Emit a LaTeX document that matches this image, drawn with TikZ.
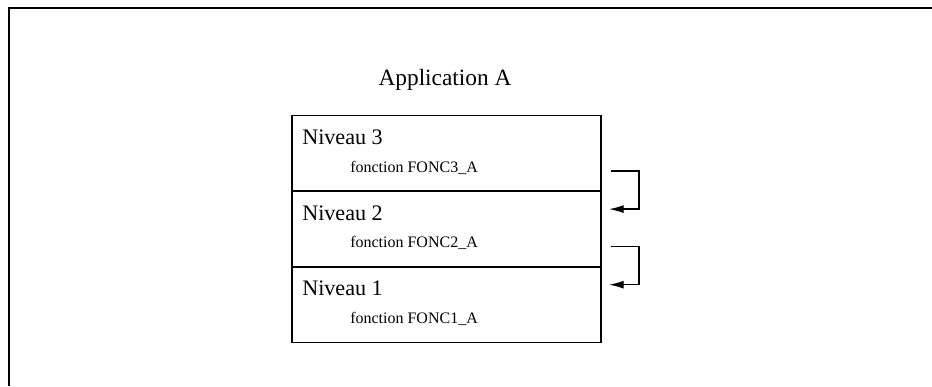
\documentclass[tikz,border=0pt]{standalone}
\usepackage{fontspec}
\setmainfont{Liberation Serif}
\usetikzlibrary{arrows.meta, positioning}

\begin{document}
\begin{tikzpicture}[x=0.75pt, y=-0.75pt, node distance={0pt},
        level/.style = {draw, line width=1.2pt, outer sep=0pt, inner sep=0pt, minimum width=231.75pt, minimum height=56.7pt},
        title/.style = {anchor=west, inner sep=0pt, font=\fontsize{16.6}{18}\selectfont},
        func/.style = {anchor=west, inner sep=0pt, font=\fontsize{12}{14}\selectfont},
        flow/.style = {line width=1pt, -{Latex[length=11pt,width=6pt]}}]
    \useasboundingbox (0,0) rectangle (932,386);
    \draw[line width=1pt] (932,8) -- (9,8) -- (9,386);

    \node[font=\fontsize{17.5}{20}\selectfont] (A) at (445,80) {Application A};

    \node[level] (N3) at (446.5,153.3) {};
    \node[level] (N2) [below=of N3] {};
    \node[level] (N1) [below=of N2] {};

    \node[title] (T3) at ([shift={(10,22)}]N3.north west) {Niveau 3};
    \node[func] (F3) at ([shift={(58,52)}]N3.north west) {fonction FONC3\_A};
    \node[title] (T2) at ([shift={(10,22)}]N2.north west) {Niveau 2};
    \node[func] (F2) at ([shift={(58,52)}]N2.north west) {fonction FONC2\_A};
    \node[title] (T1) at ([shift={(10,22)}]N1.north west) {Niveau 1};
    \node[func] (F1) at ([shift={(58,52)}]N1.north west) {fonction FONC1\_A};

    % appels d'un niveau vers le niveau inferieur
    \draw[flow] ([shift={(10,-20)}]N3.south east) -- ++(28,0) |- ([shift={(8,18)}]N2.north east);
    \draw[flow] ([shift={(10,-20)}]N2.south east) -- ++(28,0) |- ([shift={(8,18)}]N1.north east);
\end{tikzpicture}
\end{document}
